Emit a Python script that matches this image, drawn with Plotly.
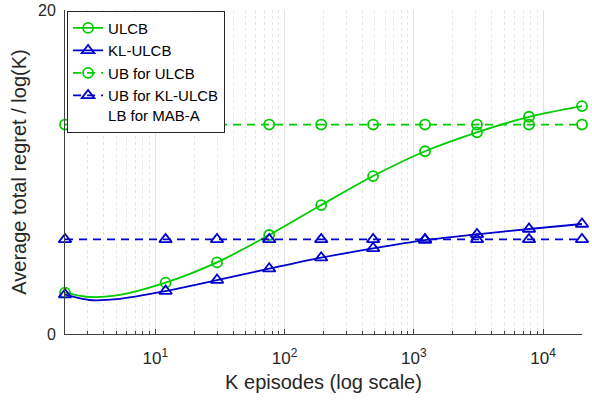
import math
import plotly.graph_objects as go

# K episodes at which values are read (markers) plus early dip points
k_ulcb = [2, 2.9, 5, 12, 30, 76, 192, 484, 1220, 3080, 7780, 20000]
ulcb = [2.55, 2.30, 2.38, 3.17, 4.42, 6.11, 7.96, 9.75, 11.28, 12.45, 13.41, 14.07]

k_kl = [2, 3.1, 5, 12, 30, 76, 192, 484, 1220, 3080, 7780, 20000]
kl_ulcb = [2.43, 2.10, 2.15, 2.65, 3.33, 4.03, 4.71, 5.29, 5.80, 6.15, 6.48, 6.79]

k_marks = [2, 12, 30, 76, 192, 484, 1220, 3080, 7780, 20000]
ub_ulcb = [12.93] * len(k_marks)
ub_kl = [5.84] * len(k_marks)

mark_idx = [0, 3, 4, 5, 6, 7, 8, 9, 10, 11]

x_ticks = [10, 100, 1000, 10000]
x_ticktext = ["10<sup>1</sup>", "10<sup>2</sup>", "10<sup>3</sup>", "10<sup>4</sup>"]
x_minor = [m * 10 ** e for e in range(0, 5) for m in range(2, 10) if 2 <= m * 10 ** e <= 20000]
y_ticks = [0, 20]

GREEN = "rgb(0,204,0)"
BLUE = "rgb(0,0,204)"

fig = go.Figure()

fig.add_trace(go.Scatter(
    x=k_ulcb, y=ulcb, mode="lines+markers", name="ULCB",
    line=dict(color=GREEN, width=1.8, shape="spline", smoothing=0.8),
    marker=dict(symbol="circle-open", size=10, color=GREEN, line=dict(width=1.8)),
    selectedpoints=mark_idx,
    unselected=dict(marker=dict(opacity=0)),
    cliponaxis=False,
))
fig.add_trace(go.Scatter(
    x=k_kl, y=kl_ulcb, mode="lines+markers", name="KL-ULCB",
    line=dict(color=BLUE, width=1.8, shape="spline", smoothing=0.8),
    marker=dict(symbol="triangle-up-open", size=11, color=BLUE, line=dict(width=1.8)),
    selectedpoints=mark_idx,
    unselected=dict(marker=dict(opacity=0)),
    cliponaxis=False,
))
fig.add_trace(go.Scatter(
    x=k_marks, y=ub_ulcb, mode="lines+markers", name="UB for ULCB",
    line=dict(color=GREEN, width=1.8, dash="8px,6px"),
    marker=dict(symbol="circle-open", size=10, color=GREEN, line=dict(width=1.8)),
    cliponaxis=False,
))
fig.add_trace(go.Scatter(
    x=k_marks, y=ub_kl, mode="lines+markers", name="UB for KL-ULCB<br>LB for MAB-A",
    line=dict(color=BLUE, width=1.8, dash="8px,6px"),
    marker=dict(symbol="triangle-up-open", size=11, color=BLUE, line=dict(width=1.8)),
    cliponaxis=False,
))

axis_color = "#404040"
x_range = [math.log10(min(k_marks)) - 1e-9, math.log10(max(k_marks)) + 1e-9]
fig.update_layout(
    width=592, height=403,
    margin=dict(l=65, r=10, t=10, b=69, autoexpand=False),
    paper_bgcolor="white", plot_bgcolor="white",
    font=dict(family="Liberation Sans, Arial, sans-serif", size=16, color="#262626"),
    showlegend=True,
    legend=dict(
        x=0.004, y=0.998, xanchor="left", yanchor="top",
        bgcolor="white", bordercolor="#262626", borderwidth=1,
        font=dict(size=15, color="#000000"),
        valign="top", tracegroupgap=0, itemwidth=30,
    ),
    xaxis=dict(
        type="log", range=x_range, automargin=False,
        tickvals=x_ticks, ticktext=x_ticktext,
        ticks="inside", ticklen=5, tickcolor=axis_color,
        ticklabelstandoff=9,
        showline=True, linecolor=axis_color, linewidth=1, mirror=False,
        showgrid=True, gridcolor="#e2e2e2", gridwidth=1,
        minor=dict(tickvals=x_minor, ticks="inside", ticklen=3, tickcolor=axis_color,
                   showgrid=True, gridcolor="#e6e6e6", griddash="dot"),
        zeroline=False,
        title=dict(text="K episodes (log scale)", font=dict(size=20), standoff=7),
        tickfont=dict(size=17),
    ),
    yaxis=dict(
        range=[0, 20], tickvals=y_ticks, automargin=False,
        ticks="inside", ticklen=5, tickcolor=axis_color,
        ticklabelstandoff=5,
        showline=True, linecolor=axis_color, linewidth=1, mirror=False,
        showgrid=True, gridcolor="#e2e2e2", zeroline=False,
        title=dict(text="Average total regret / log(K)", font=dict(size=20), standoff=6),
        tickfont=dict(size=16),
    ),
)

fig.write_html("out.html", config={"displayModeBar": False},
               post_script="document.body.style.margin='0';document.body.style.overflow='hidden';")
